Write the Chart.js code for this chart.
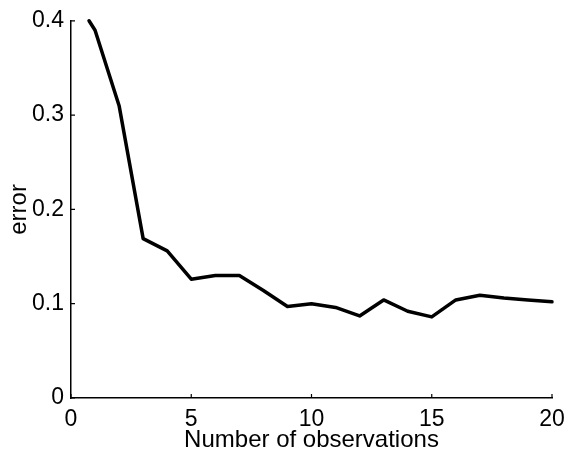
<!DOCTYPE html>
<html>
<head>
<meta charset="utf-8">
<script src="https://cdn.jsdelivr.net/npm/chart.js@4"></script>
<style>
  html, body { margin: 0; padding: 0; background: #fff; }
  #errChart { display: block; }
</style>
</head>
<body>
<canvas id="errChart" width="570" height="452"></canvas>
<script>
const observations = [0.75, 1, 2, 3, 4, 5, 6, 7, 8, 9, 10, 11, 12, 13, 14, 15, 16, 17, 18, 19, 20];
const errorValues = [0.40, 0.39, 0.31, 0.169, 0.156, 0.126, 0.130, 0.130, 0.114, 0.097, 0.100,
  0.096, 0.087, 0.104, 0.092, 0.086, 0.104, 0.109, 0.106, 0.104, 0.102];
const xTicks = [0, 5, 10, 15, 20];
const yTicks = [0, 0.1, 0.2, 0.3, 0.4];

const FONT = "'Liberation Sans', Arial, Helvetica, sans-serif";

// matlab-style inward tick marks
const innerTicks = {
  id: "innerTicks",
  afterDraw(chart) {
    const { ctx, chartArea, scales } = chart;
    ctx.save();
    ctx.strokeStyle = "#000";
    ctx.lineWidth = 1.2;
    ctx.beginPath();
    xTicks.forEach((v) => {
      const px = scales.x.getPixelForValue(v);
      ctx.moveTo(px, chartArea.bottom);
      ctx.lineTo(px, chartArea.bottom - 4);
    });
    yTicks.forEach((v) => {
      const py = scales.y.getPixelForValue(v);
      ctx.moveTo(chartArea.left, py);
      ctx.lineTo(chartArea.left + 4, py);
    });
    ctx.stroke();
    ctx.restore();
  },
};

new Chart(document.getElementById("errChart").getContext("2d"), {
  type: "line",
  data: {
    datasets: [
      {
        data: observations.map((x, i) => ({ x, y: errorValues[i] })),
        borderColor: "#000",
        borderWidth: 3.5,
        borderJoinStyle: "round",
        borderCapStyle: "round",
        pointRadius: 0,
        tension: 0,
        fill: false,
        clip: false,
      },
    ],
  },
  options: {
    responsive: false,
    animation: false,
    layout: { padding: { top: 18, right: 18, bottom: 0, left: 0 } },
    plugins: {
      legend: { display: false },
      tooltip: { enabled: false },
    },
    scales: {
      x: {
        type: "linear",
        min: 0,
        max: 20,
        afterBuildTicks: (scale) => {
          scale.ticks = xTicks.map((value) => ({ value }));
        },
        afterFit: (scale) => {
          scale.height = 54;
          scale.paddingLeft = 0;
          scale.paddingRight = 0;
        },
        grid: { display: false, drawTicks: false },
        border: { display: true, color: "#000", width: 1.5 },
        ticks: {
          color: "#000",
          padding: 8,
          font: { family: FONT, size: 23 },
          maxRotation: 0,
        },
        title: {
          display: true,
          text: "Number of observations",
          color: "#000",
          font: { family: FONT, size: 24, lineHeight: 1 },
          padding: { top: 0, bottom: 0 },
        },
      },
      y: {
        type: "linear",
        min: 0,
        max: 0.4,
        afterBuildTicks: (scale) => {
          scale.ticks = yTicks.map((value) => ({ value }));
        },
        afterFit: (scale) => {
          scale.width = 71;
        },
        grid: { display: false, drawTicks: false },
        border: { display: true, color: "#000", width: 1.5 },
        ticks: {
          color: "#000",
          padding: 7,
          font: { family: FONT, size: 23 },
          callback: (value) => (value === 0 ? "0" : value.toFixed(1)),
        },
        title: {
          display: true,
          text: "error",
          color: "#000",
          font: { family: FONT, size: 24, lineHeight: 1 },
          padding: { top: 7, bottom: 0 },
        },
      },
    },
  },
  plugins: [innerTicks],
});
</script>
</body>
</html>
